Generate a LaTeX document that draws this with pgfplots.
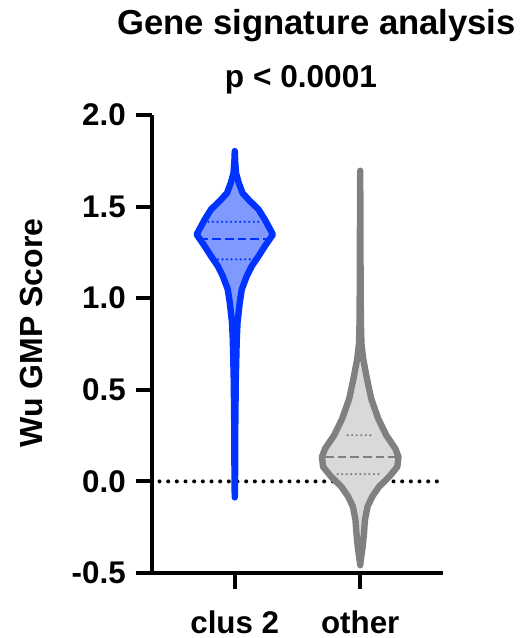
\documentclass[border=0pt]{standalone}
\usepackage{pgfplots}
\pgfplotsset{compat=1.18}
\usepackage{fontspec}
\setmainfont{Liberation Sans}
\definecolor{vblue}{RGB}{0,51,255}
\definecolor{vbluefill}{RGB}{128,153,255}
\definecolor{vgray}{RGB}{128,128,128}
\definecolor{vgrayfill}{RGB}{217,217,217}
\begin{document}
\begin{tikzpicture}
\begin{axis}[
  scale only axis,
  width=218.25pt, height=343.5pt,
  xmin=0.34, xmax=2.66,
  ymin=-0.5, ymax=2.0,
  clip=false,
  axis x line*=bottom, axis y line*=left,
  axis line style={line width=3pt, black},
  xtick={1,2}, xticklabels={clus 2, other},
  ytick={-0.5,0,0.5,1,1.5,2},
  yticklabels={-0.5,0.0,0.5,1.0,1.5,2.0},
  tick align=outside,
  major tick length=12pt,
  tick style={line width=3pt, black},
  ticklabel style={font=\bfseries\fontsize{23.5}{28}\selectfont},
  yticklabel style={inner sep=0pt, xshift=-7.5pt},
  xticklabel style={inner sep=0pt, anchor=base, yshift=-33pt},
]
% zero reference line
\addplot[black, line width=3pt, line cap=round, dash pattern=on 0pt off 6.5pt] coordinates {(0.40,0) (2.64,0)};
% clus 2 violin
\addplot[draw=vblue, fill=vbluefill, line width=4.8pt, line join=round, line cap=round] coordinates {
(1.000,-0.087) (1.002,0.0) (1.004,0.3) (1.008,0.55) (1.013,0.70) (1.016,0.777) (1.022,0.868) (1.040,0.977) (1.056,1.049) (1.096,1.121) (1.136,1.176) (1.190,1.23) (1.240,1.284) (1.304,1.348) (1.240,1.429) (1.190,1.484) (1.110,1.538) (1.062,1.574) (1.032,1.629) (1.010,1.683) (1.003,1.75) (1.000,1.803)
(0.997,1.75) (0.990,1.683) (0.968,1.629) (0.938,1.574) (0.890,1.538) (0.810,1.484) (0.760,1.429) (0.696,1.348) (0.760,1.284) (0.810,1.23) (0.864,1.176) (0.904,1.121) (0.944,1.049) (0.960,0.977) (0.978,0.868) (0.984,0.777) (0.987,0.70) (0.992,0.55) (0.996,0.3) (0.998,0.0) (1.000,-0.087)
};
\addplot[vblue, line width=2pt, dash pattern=on 6.5pt off 3pt] coordinates {(0.72,1.324) (1.28,1.324)};
\addplot[vblue, line width=1.8pt, line cap=round, dash pattern=on 0pt off 3.4pt] coordinates {(0.79,1.417) (1.21,1.417)};
\addplot[vblue, line width=1.8pt, line cap=round, dash pattern=on 0pt off 3.4pt] coordinates {(0.83,1.212) (1.17,1.212)};
% other violin
\addplot[draw=vgray, fill=vgrayfill, line width=4.8pt, line join=round, line cap=round] coordinates {
(2.000,-0.457) (2.005,-0.428) (2.020,-0.355) (2.030,-0.283) (2.038,-0.21) (2.058,-0.138) (2.096,-0.083) (2.150,-0.029) (2.232,0.026) (2.296,0.08) (2.305,0.134) (2.280,0.179) (2.208,0.252) (2.144,0.342) (2.088,0.451) (2.054,0.56) (2.024,0.668) (2.010,0.75) (2.006,0.85) (2.003,1.1) (2.002,1.4) (2.000,1.696)
(1.998,1.4) (1.997,1.1) (1.994,0.85) (1.990,0.75) (1.976,0.668) (1.946,0.56) (1.912,0.451) (1.856,0.342) (1.792,0.252) (1.720,0.179) (1.695,0.134) (1.704,0.08) (1.768,0.026) (1.850,-0.029) (1.904,-0.083) (1.942,-0.138) (1.962,-0.21) (1.970,-0.283) (1.980,-0.355) (1.995,-0.428) (2.000,-0.457)
};
\addplot[vgray, line width=2pt, dash pattern=on 6.5pt off 3pt] coordinates {(1.72,0.134) (2.28,0.134)};
\addplot[vgray, line width=1.8pt, line cap=round, dash pattern=on 0pt off 3.4pt] coordinates {(1.90,0.252) (2.10,0.252)};
\addplot[vgray, line width=1.8pt, line cap=round, dash pattern=on 0pt off 3.4pt] coordinates {(1.82,0.040) (2.18,0.040)};
% texts
\node[anchor=base, font=\bfseries\fontsize{26}{30}\selectfont] at (rel axis cs:0.5653,1.1747) {Gene signature analysis};
\node[anchor=base, font=\bfseries\fontsize{23.7}{28}\selectfont] at (rel axis cs:0.512,1.059) {p < 0.0001};
\node[rotate=90, inner sep=0pt, font=\bfseries\fontsize{24}{28}\selectfont] at (rel axis cs:-0.4158,0.524) {Wu GMP Score};
\path (rel axis cs:-0.5223,-0.1419) rectangle (rel axis cs:1.2921,1.2511);
\end{axis}
\end{tikzpicture}
\end{document}
